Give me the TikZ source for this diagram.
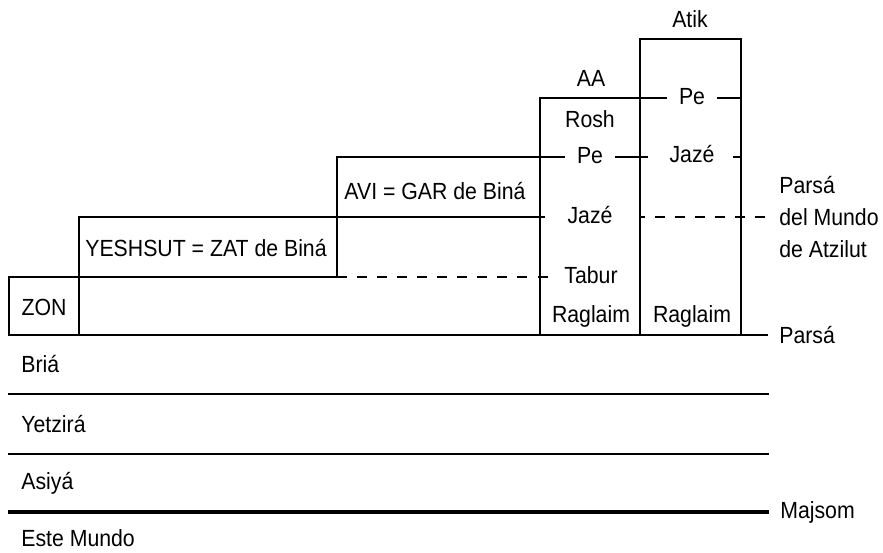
\documentclass[tikz,border=0pt]{standalone}
\usepackage{fontspec}
\setmainfont{Liberation Sans}[FakeStretch=0.91]
\usetikzlibrary{positioning, calc}

\begin{document}
\begin{tikzpicture}[
    x=0.02cm, y=-0.02cm,
    % --- STYLES ---
    lbl/.style={font=\fontsize{13.3}{15}\selectfont, inner sep=0pt, text height=0.72em, text depth=0pt},
    gap/.style={lbl, inner xsep=6.8pt},
    side/.style={font=\fontsize{13.3}{18.4}\selectfont, inner sep=0pt, align=left},
    wall/.style={line width=1.1pt},
    cut/.style={line width=1.1pt, dash pattern=on 5.7pt off 5.7pt},
    floor/.style={line width=2.6pt}
]
    \useasboundingbox (0,0) rectangle (883,552);

    % ==========================================
    % LABELS OF THE PARTZUFIM
    % ==========================================
    \node[lbl] (zon) at (44,309) {ZON};
    \node[lbl] (yeshsut) at (206,250) {YESHSUT = ZAT de Biná};
    \node[lbl] (avi) at (435,193) {AVI = GAR de Biná};

    \node[lbl] (aa) at (591,80) {AA};
    \node[lbl] (rosh) at (590,121) {Rosh};
    \node[gap] (peaa) at (590,157) {Pe};
    \node[lbl] (jazeaa) at (590,217) {Jazé};
    \node[lbl] (tabur) at (591,277) {Tabur};
    \node[lbl] (raglaa) at (591,316) {Raglaim};

    \node[lbl] (atik) at (690,21) {Atik};
    \node[gap] (peatik) at (692,98) {Pe};
    \node[lbl] (jazeatik) at (692,156) {Jazé};
    \node[lbl] (raglatik) at (692,316) {Raglaim};

    % ==========================================
    % BOXES
    % ==========================================
    \draw[wall] (9,335) rectangle (79,277);
    \draw[wall] (9,277) -- (337,277) -- (337,157) -- (peaa.west);
    \draw[wall] (79,335) -- (79,217) -- (545,217);
    \draw[wall] (540,335) -- (540,98) -- (peatik.west);
    \draw[wall] (peaa.east) -- (648,157);
    \draw[wall] (peatik.east) -- (741,98);
    \draw[wall] (640,335) rectangle (741,39);

    % ticks and cut lines
    \coordinate (tabl) at (538,277);
    \coordinate (tabr) at (548,277);
    \coordinate (jzl) at (733,157);
    \coordinate (jzr) at (741,157);
    \draw[cut] (337,277) -- (528,277);
    \draw[wall] (tabl) -- (tabr);
    \draw[wall] (jzl) -- (jzr);
    \draw[cut, dash phase=3pt] (640,217) -- (766,217);

    % ==========================================
    % WORLDS
    % ==========================================
    \node[side, anchor=west] (atzilut) at (779,217) {Parsá\\del Mundo\\de Atzilut};
    \node[lbl, anchor=west] (parsa) at (779,337) {Parsá};
    \node[lbl, anchor=west] (bria) at (21,366) {Briá};
    \node[lbl, anchor=west] (yetzira) at (21,426) {Yetzirá};
    \node[lbl, anchor=west] (asiya) at (21,483) {Asiyá};
    \node[lbl, anchor=west] (majsom) at (780,512) {Majsom};
    \node[lbl, anchor=west] (mundo) at (21,540) {Este Mundo};

    \draw[wall] (9,335) -- (768,335);
    \draw[wall] (8,394) -- (769,394);
    \draw[wall] (8,454) -- (769,454);
    \draw[floor] (8,512) -- (769,512);

\end{tikzpicture}
\end{document}
